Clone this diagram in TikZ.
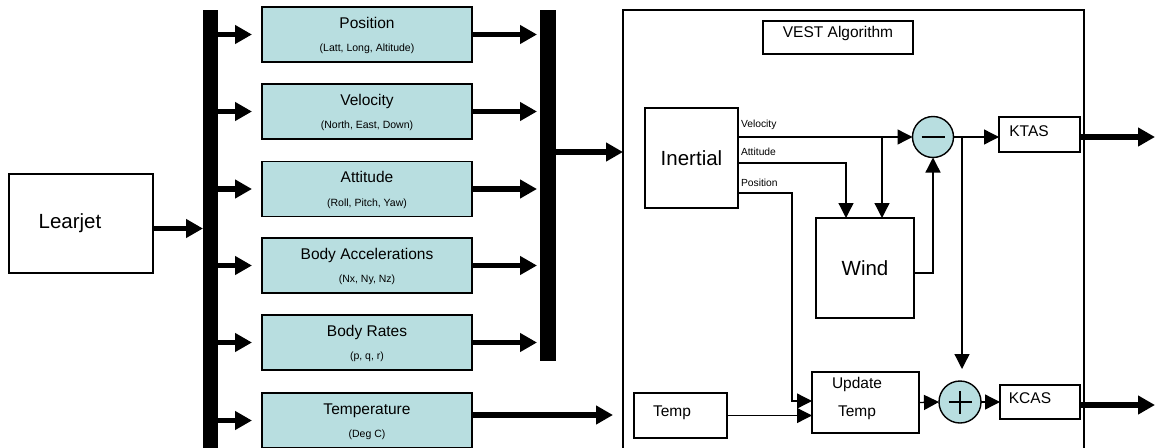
\documentclass[tikz,border=0pt]{standalone}
\usepackage{fontspec}
\setmainfont{Liberation Sans}
\usetikzlibrary{arrows.meta}
\definecolor{sigfill}{RGB}{184,222,224}
\newcommand\fntBig{\fontsize{20.5}{24}\selectfont}
\newcommand\fntMid{\fontsize{15.5}{18}\selectfont}
\newcommand\fntSub{\fontsize{10.5}{12}\selectfont}
\newcommand\fntTag{\fontsize{10.3}{12}\selectfont}

\tikzset{
  every node/.style={inner sep=0pt, outer sep=0pt},
  box/.style={draw, line width=1.3pt, rectangle},
  sigbox/.style={draw, line width=1.4pt, fill=sigfill, minimum width=210pt, minimum height=55pt},
  sigtitle/.style={anchor=base, font=\fntMid},
  sigsub/.style={anchor=base, font=\fntSub},
  tag/.style={anchor=base west, font=\fntTag},
  bus/.style={fill=black, draw=none},
  fatarrow/.style={line width=5.5pt, -{Triangle[length=17pt,width=18pt]}},
  thinarrow/.style={line width=1.3pt, -{Triangle[length=15pt,width=15pt]}},
  wire/.style={line width=1.3pt},
  summer/.style={circle, draw, line width=1.4pt, fill=sigfill, minimum size=41pt},
}

\begin{document}
\begin{tikzpicture}[x=1pt,y=-1pt]
\useasboundingbox (0,0) rectangle (1156,447);
\clip (0,0) rectangle (1156,447);

% source aircraft
\node[box, minimum width=144pt, minimum height=99pt,
      label={[font=\fntBig, xshift=-11pt]center:Learjet}] (learjet) at (81,223.5) {};

% data buses
\node[bus, minimum width=15pt, minimum height=460pt] (lbus) at (210.5,240) {};
\node[bus, minimum width=16pt, minimum height=351pt] (rbus) at (548,185.5) {};

% measured signals
\foreach \nm/\cy/\ttl/\sub in {
    pos/34.5/Position/{(Latt, Long, Altitude)},
    vel/111.5/Velocity/{(North, East, Down)},
    att/189/Attitude/{(Roll, Pitch, Yaw)},
    acc/265.5/Body Accelerations/{(Nx, Ny, Nz)},
    rat/342.5/Body Rates/{(p, q, r)},
    tmp/420.5/Temperature/{(Deg C)}} {
  \node[sigbox] (\nm) at (367,\cy) {};
  \node[sigtitle] (\nm-t) at (367,\cy-6.5) {\ttl};
  \node[sigsub] (\nm-s) at (367,\cy+17) {\sub};
  \draw[fatarrow, shorten >=10pt] (lbus.east |- \nm.west) -- (\nm.west);
}
\foreach \nm in {pos,vel,att,acc,rat} {
  \draw[fatarrow, shorten >=3pt] (\nm.east) -- (\nm.east -| rbus.west);
}

% algorithm frame
\node[box, minimum width=461pt, minimum height=460pt] (vest) at (853.5,240) {};
\node[draw, line width=2.2pt, minimum width=150pt, minimum height=33pt,
      label={[font=\fntMid, yshift=4pt]center:VEST Algorithm}] (title) at (838,37.5) {};

\draw[fatarrow] ([yshift=-5pt]learjet.east) -- ([yshift=-5pt]learjet.east -| lbus.west);
\draw[fatarrow] ([yshift=33.5pt]rbus.east) -- ([yshift=33.5pt]rbus.east -| vest.west);
\draw[fatarrow, shorten >=10pt] ([yshift=5.5pt]tmp.east) -- ([yshift=5.5pt]tmp.east -| vest.west);

% algorithm blocks
\node[box, minimum width=93pt, minimum height=100pt, font=\fntBig] (inertial) at (691.5,158) {Inertial};
\node[box, minimum width=98pt, minimum height=100pt, font=\fntBig] (wind) at (865,268) {Wind};
\node[box, minimum width=93pt, minimum height=45pt,
      label={[font=\fntMid, xshift=-8.5pt, yshift=2.5pt]center:Temp}] (temp) at (680.5,415.5) {};
\node[box, minimum width=107pt, minimum height=61pt] (update) at (865.5,402.5) {};
\node[font=\fntMid] (update-a) at (857,384) {Update};
\node[font=\fntMid] (update-b) at (857,413) {Temp};
\node[box, minimum width=81pt, minimum height=35pt,
      label={[font=\fntMid, xshift=-10.5pt, yshift=3.5pt]center:KTAS}] (ktas) at (1039.5,134.5) {};
\node[box, minimum width=80pt, minimum height=34pt,
      label={[font=\fntMid, xshift=-10pt, yshift=4pt]center:KCAS}] (kcas) at (1040,402) {};

% summing junctions
\node[summer] (minus) at (933,137) {};
\draw[line width=2pt] ([xshift=-11.5pt]minus.center) -- ([xshift=11.5pt]minus.center);
\node[summer, minimum size=42pt] (plus) at (960,402) {};
\draw[line width=2pt] ([xshift=-11.5pt]plus.center) -- ([xshift=11.5pt]plus.center);
\draw[line width=2pt] ([yshift=-11.5pt]plus.center) -- ([yshift=11.5pt]plus.center);

% inertial outputs
\node[tag] (tag-v) at (741,127) {Velocity};
\node[tag] (tag-a) at (741,155.5) {Attitude};
\node[tag] (tag-p) at (741,186.5) {Position};

\draw[thinarrow] (inertial.east |- minus.west) -- (minus.west);
\coordinate (vtap) at (882,137);
\draw[thinarrow] (vtap) -- (vtap |- wind.north);
\draw[thinarrow] ([yshift=-5pt]inertial.east) -| ([xshift=-19pt]wind.north);
\draw[thinarrow] ([yshift=-35pt]inertial.east) -- ++(54,0) |- ([yshift=1.5pt]update.west);
\draw[thinarrow] (temp.east) -- (temp.east -| update.west);

% wind correction and outputs
\draw[thinarrow] ([yshift=-5pt]wind.east) -| (minus.south);
\draw[thinarrow] (minus.east) -- (minus.east -| ktas.west);
\coordinate (ktap) at (962,137);
\draw[thinarrow, shorten >=12pt] (ktap) -- (ktap |- plus.north);
\draw[thinarrow] (update.east) -- (plus.west);
\draw[thinarrow] (plus.east) -- (plus.east -| kcas.west);

\coordinate (ktasout) at (1155,137);
\coordinate (kcasout) at (1155,405);
\draw[fatarrow] (ktasout -| ktas.east) -- (ktasout);
\draw[fatarrow] (kcasout -| kcas.east) -- (kcasout);
\end{tikzpicture}
\end{document}
